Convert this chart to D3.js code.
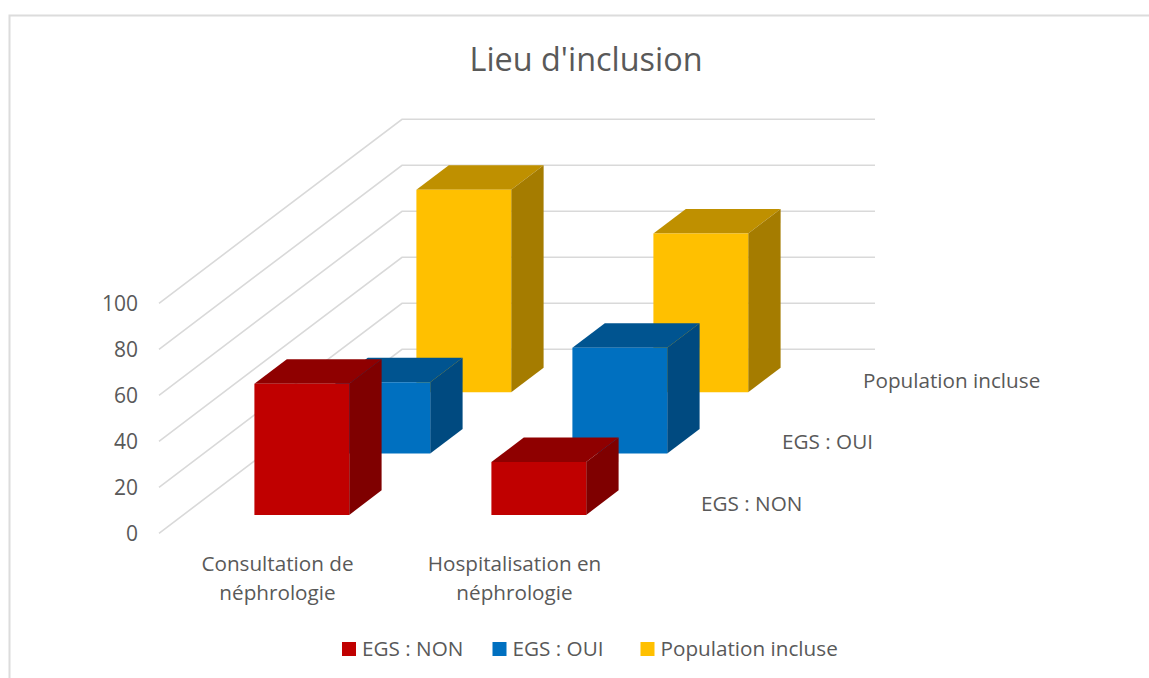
<!DOCTYPE html>
<html>
<head>
<meta charset="utf-8">
<script src="https://cdn.jsdelivr.net/npm/d3@7/dist/d3.min.js"></script>
<style>
body{margin:0;background:#fff;overflow:hidden;}
text{font-family:"Open Sans",sans-serif;fill:#595959;}
</style>
</head>
<body>
<div id="canvas"></div>
<script>
var categories = ['Consultation de néphrologie','Hospitalisation en néphrologie'];
var categoryLines = [['Consultation de','néphrologie'],['Hospitalisation en','néphrologie']];
var seriesNames = ['EGS : NON','EGS : OUI','Population incluse'];
var egsNon = [57,23];
var egsOui = [31,46];
var population = [88,69];
var yTicks = [0,20,40,60,80,100];
var frontColors = ['#c00000','#0070c0','#ffc000'];
var topColors = ['#8f0000','#005490','#bf9000'];
var sideColors = ['#7f0000','#004a80','#a57c00'];
var legendX = [342,492.5,640.5];

var allValues = [egsNon,egsOui,population];

var W = 1149, H = 678;
var svg = d3.select('#canvas').append('svg').attr('width',W).attr('height',H);

//frame of the chart, only top and left show
svg.append('path')
    .attr('d','M9.5,678V15.5H1149')
    .attr('fill','none').attr('stroke','#dcdcdc').attr('stroke-width',2);

svg.append('text').attr('x',586).attr('y',71)
    .attr('text-anchor','middle').attr('font-size',32.4)
    .text("Lieu d'inclusion");

//the oblique 3d box: front-left corner + depth vector
var origin = {x:159,y:533},
    depthX = 243,
    depthY = -184,
    gridW = 473;

var x = d3.scaleBand().domain(categories).range([0,474]).paddingInner(0.6).paddingOuter(0.3);
var y = d3.scaleLinear().domain([0,100]).range([533.3,303.3]);
var z = d3.scaleBand().domain(seriesNames).range([0,1]).paddingInner(0.6).paddingOuter(0.3);

function project(px,v,d){
    return [origin.x + px + d*depthX, y(v) + d*depthY];
}
function poly(pts){ return 'M'+pts.map(function(p){return p.join(',');}).join('L')+'Z'; }

//gridlines: side wall + back wall
var grid = svg.append('g').attr('class','grid');
yTicks.forEach(function(t){
    var a = project(0,t,0), b = project(0,t,1), c = project(gridW,t,1);
    grid.append('polyline')
        .attr('points',[a,b,c].map(function(p){return p.join(',');}).join(' '))
        .attr('fill','none').attr('stroke','#d9d9d9').attr('stroke-width',1.6);
});

//bars, back series first
var bars = svg.append('g').attr('class','bars');
d3.range(seriesNames.length-1,-1,-1).forEach(function(s){
    categories.forEach(function(cat,i){
        var v = allValues[s][i],
            x0 = x(cat), x1 = x0 + x.bandwidth(),
            z0 = z(seriesNames[s]), z1 = z0 + z.bandwidth();
        var g = bars.append('g');
        g.append('path').attr('fill',topColors[s])
            .attr('d',poly([project(x0,v,z0),project(x1,v,z0),project(x1,v,z1),project(x0,v,z1)]));
        g.append('path').attr('fill',sideColors[s])
            .attr('d',poly([project(x1,0,z0),project(x1,v,z0),project(x1,v,z1),project(x1,0,z1)]));
        g.append('path').attr('fill',frontColors[s])
            .attr('d',poly([project(x0,0,z0),project(x1,0,z0),project(x1,v,z0),project(x0,v,z0)]));
    });
});

//value axis
var yAxis = d3.axisLeft(y).tickValues(yTicks).tickSize(0).tickPadding(21);
var yG = svg.append('g').attr('transform','translate('+origin.x+',0)').call(yAxis);
yG.select('.domain').remove();
yG.selectAll('text').attr('font-size',21).style('font-family','"Open Sans",sans-serif').attr('fill','#595959');

//category labels
categories.forEach(function(cat,i){
    var p = project(x(cat)+x.bandwidth()/2,0,0);
    categoryLines[i].forEach(function(line,j){
        svg.append('text').attr('x',p[0]).attr('y',p[1]+38+j*29)
            .attr('text-anchor','middle').attr('font-size',20.7).text(line);
    });
});

//depth axis labels
seriesNames.forEach(function(name,s){
    var p = project(gridW,0,z(name)+z.bandwidth()/2);
    svg.append('text').attr('x',p[0]+28.5).attr('y',p[1]+8)
        .attr('font-size',20.7).text(name);
});

//legend
seriesNames.forEach(function(name,s){
    svg.append('rect').attr('x',legendX[s]).attr('y',642).attr('width',14).attr('height',14)
        .attr('fill',frontColors[s]);
    svg.append('text').attr('x',legendX[s]+20).attr('y',655.5)
        .attr('font-size',20.7).text(name);
});
</script>
</body>
</html>
